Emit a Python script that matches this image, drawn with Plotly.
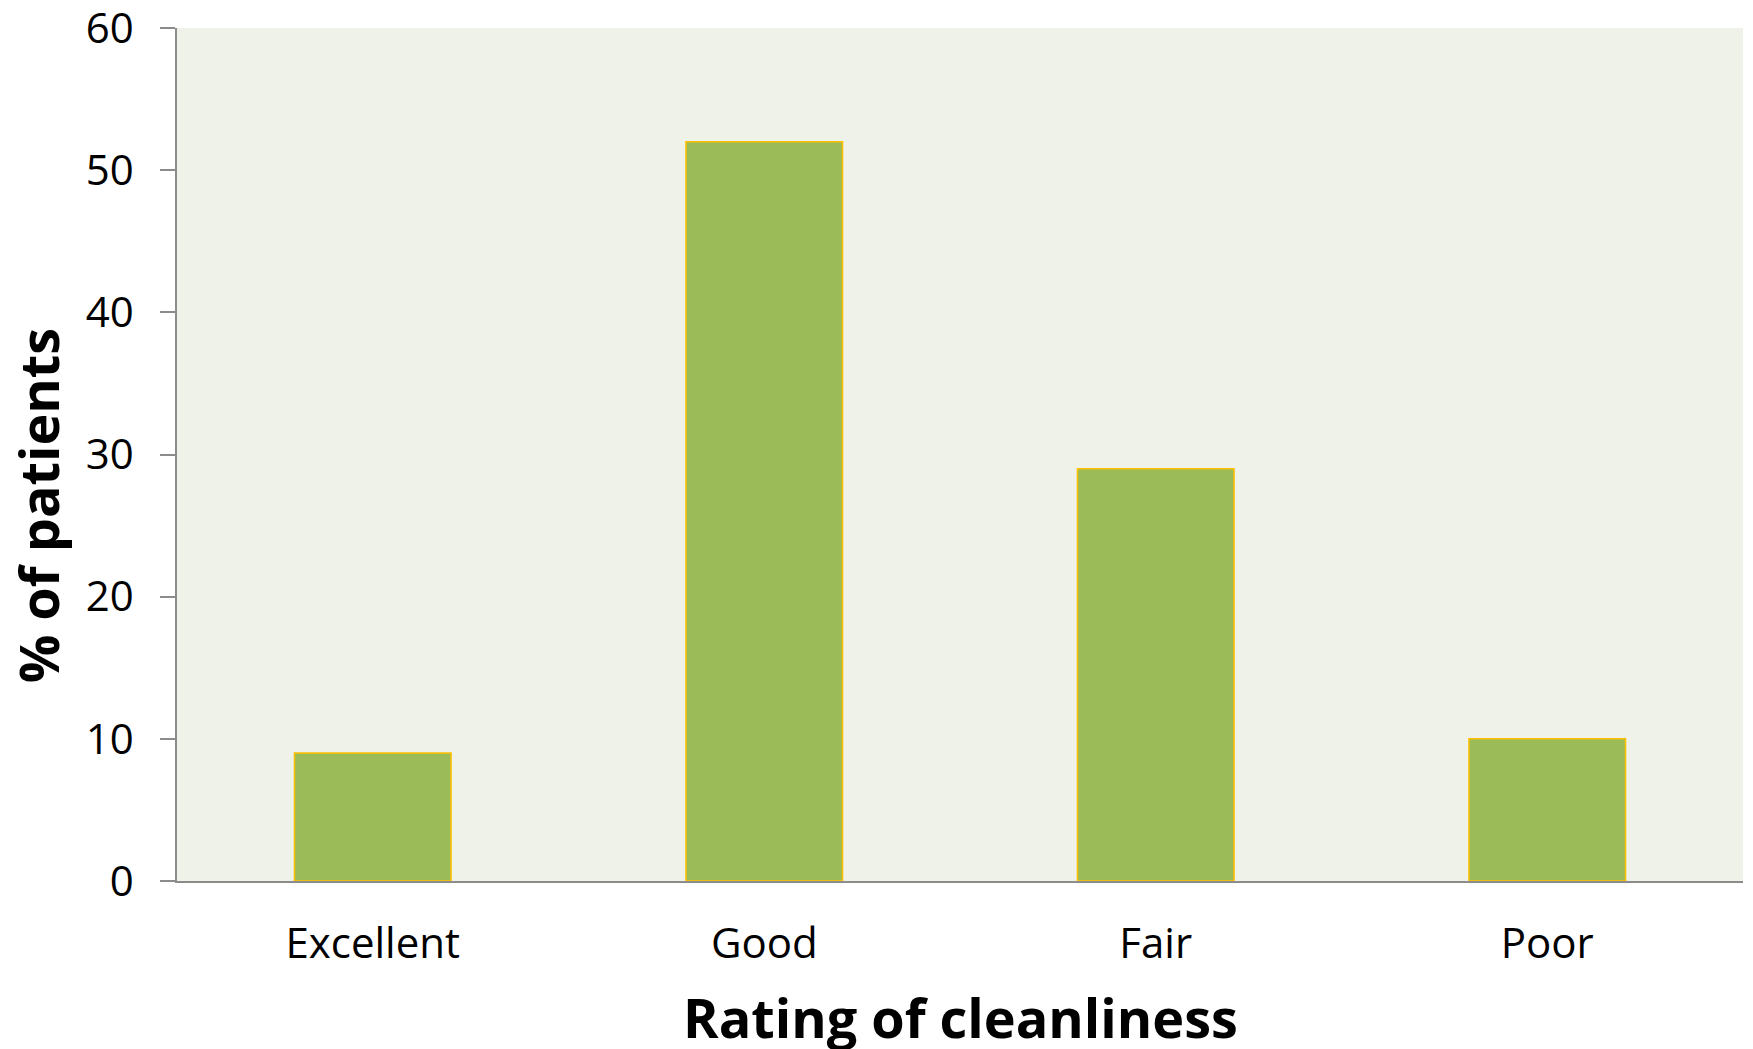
import plotly.graph_objects as go

categories = ["Excellent", "Good", "Fair", "Poor"]
percent_patients = [9, 52, 29, 10]
y_ticks = [0, 10, 20, 30, 40, 50, 60]

FONT = "Open Sans"
W, H = 1753, 1049
L, R, T, B = 177, 10, 28, 168

fig = go.Figure(
    go.Bar(
        x=categories,
        y=percent_patients,
        marker=dict(color="#9BBB59", line=dict(color="#FFC000", width=1.5)),
        width=0.4,
    )
)

fig.update_layout(
    width=W,
    height=H,
    margin=dict(l=L, r=R, t=T, b=B, pad=0),
    paper_bgcolor="white",
    plot_bgcolor="#EFF2E8",
    showlegend=False,
    font=dict(family=FONT, color="black", size=42),
    xaxis=dict(
        showline=True,
        linecolor="#8C8C8C",
        linewidth=1.5,
        ticks="",
        showgrid=False,
        automargin=False,
        tickfont=dict(family=FONT, size=42, color="black"),
        ticklabelstandoff=25,
    ),
    yaxis=dict(
        range=[0, 60],
        tickvals=y_ticks,
        showline=True,
        linecolor="#8C8C8C",
        linewidth=1.5,
        ticks="outside",
        ticklen=15,
        tickwidth=1.5,
        tickcolor="#8C8C8C",
        showgrid=False,
        zeroline=False,
        automargin=False,
        tickfont=dict(family=FONT, size=42, color="black"),
        ticklabelstandoff=18,
        ticklabeloverflow="allow",
    ),
    annotations=[
        dict(
            text="<b>Rating of cleanliness</b>",
            xref="paper", yref="paper",
            x=0.5, y=-0.16,
            xanchor="center", yanchor="middle",
            showarrow=False,
            font=dict(family=FONT, size=54, color="black"),
        ),
        dict(
            text="<b>% of patients</b>",
            xref="paper", yref="paper",
            x=-0.089, y=0.44,
            xanchor="center", yanchor="middle",
            textangle=-90,
            showarrow=False,
            font=dict(family=FONT, size=54, color="black"),
        ),
    ],
)

fig.write_html("out.html")
